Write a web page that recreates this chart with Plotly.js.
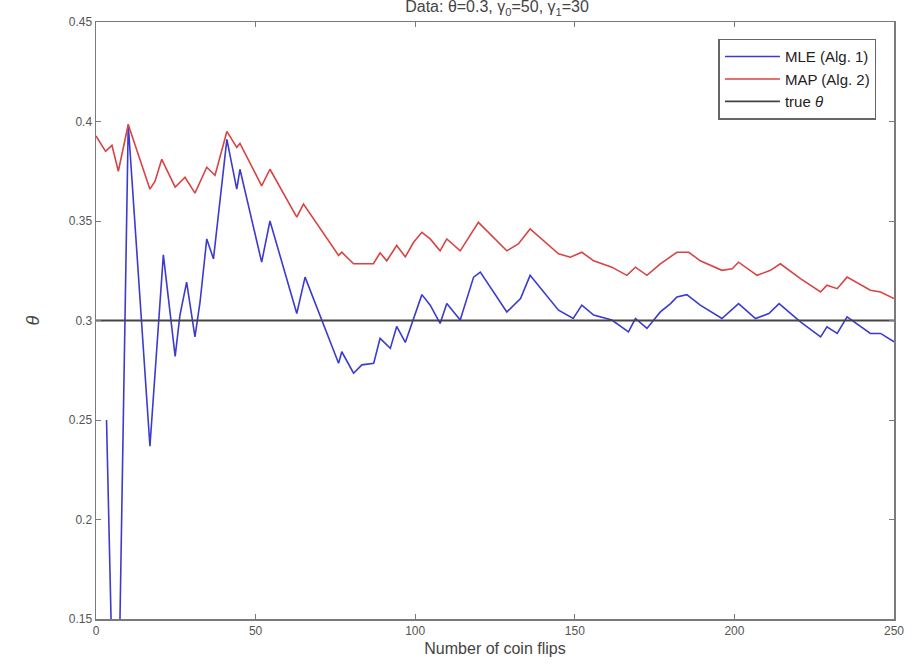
<!DOCTYPE html>
<html>
<head>
<meta charset="utf-8">
<script src="https://cdn.plot.ly/plotly-3.0.1.min.js"></script>
<style>html,body{margin:0;padding:0;background:#fff;}#chart{width:912px;height:668px;}</style>
</head>
<body>
<div id="chart"></div>
<script>
// MLE (Alg. 1) — vertices
const mleX = [3.3, 5, 7.2, 10.1, 16.9, 18.5, 21.1, 24.8, 26.3, 28.4, 31, 32.6, 34.7, 36.8, 41, 44.1, 45.1, 51.9, 54.5, 62.9, 65.5, 76, 77, 80.7, 83.3, 87, 89, 92.2, 94.2, 96.9, 99.5, 102.1, 104.7, 107.8, 109.9, 114.1, 118.3, 120.4, 128.7, 133, 136, 144.9, 149.5, 152.2, 155.9, 161.6, 166.8, 169, 172.6, 176.8, 180, 182, 185.1, 189.3, 196.1, 201.3, 206.6, 210.8, 214, 220.7, 227, 229, 232.2, 235.3, 242.6, 245.8, 250];
const mleY = [0.25, 0.13, 0.12, 0.3985, 0.2368, 0.2743, 0.333, 0.282, 0.3027, 0.3193, 0.2918, 0.3093, 0.341, 0.331, 0.391, 0.366, 0.376, 0.3293, 0.350, 0.3035, 0.3218, 0.2785, 0.2843, 0.2735, 0.2777, 0.2785, 0.291, 0.286, 0.297, 0.289, 0.301, 0.313, 0.3077, 0.2985, 0.3085, 0.3002, 0.3218, 0.3243, 0.3043, 0.311, 0.3227, 0.3052, 0.301, 0.3077, 0.3027, 0.3002, 0.2943, 0.301, 0.296, 0.3043, 0.3085, 0.3118, 0.313, 0.3077, 0.301, 0.3085, 0.301, 0.3035, 0.3085, 0.2993, 0.2918, 0.2968, 0.2935, 0.3018, 0.2935, 0.2935, 0.2893];

// MAP (Alg. 2) — vertices
const mapX = [0, 3, 5, 7, 10.1, 16.9, 18.5, 20.6, 24.8, 27.9, 31, 34.7, 37.3, 41, 44.1, 45.1, 51.9, 54.5, 62.9, 65, 76, 77, 80.7, 86.9, 89, 91.1, 94.2, 96.9, 99.5, 102.1, 104.7, 107.8, 109.9, 114.1, 119.8, 128.7, 132.3, 136, 144.9, 148.6, 152.2, 155.9, 161.6, 166.3, 169, 172.6, 176.8, 182, 185.7, 189.3, 196.1, 199.3, 201.3, 207.1, 211.3, 214.4, 220.7, 227, 229, 232.2, 235.3, 242.6, 245.8, 250];
const mapY = [0.3927, 0.385, 0.388, 0.375, 0.3985, 0.366, 0.370, 0.381, 0.367, 0.372, 0.364, 0.377, 0.373, 0.395, 0.387, 0.389, 0.3677, 0.376, 0.352, 0.3585, 0.3327, 0.3343, 0.3285, 0.3285, 0.334, 0.330, 0.3377, 0.332, 0.3393, 0.3443, 0.341, 0.335, 0.341, 0.335, 0.3493, 0.335, 0.3385, 0.346, 0.3335, 0.3318, 0.3343, 0.330, 0.3268, 0.3227, 0.3268, 0.3227, 0.3285, 0.3343, 0.3343, 0.330, 0.3252, 0.326, 0.3293, 0.3227, 0.3252, 0.3285, 0.321, 0.3143, 0.3177, 0.316, 0.3218, 0.3152, 0.3143, 0.311];

// true theta
const trueX = [0, 250];
const trueY = [0.3, 0.3];

const xTicks = [0, 50, 100, 150, 200, 250];
const yTicks = [0.15, 0.2, 0.25, 0.3, 0.35, 0.4, 0.45];
const yTickText = ['0.15', '0.2', '0.25', '0.3', '0.35', '0.4', '0.45'];

const FONT = 'Liberation Sans, Arial, Helvetica, sans-serif';

const traces = [
  {x: mleX, y: mleY, type: 'scatter', mode: 'lines', name: 'MLE (Alg. 1)',
   line: {color: '#3b3bd0', width: 1.6}},
  {x: mapX, y: mapY, type: 'scatter', mode: 'lines', name: 'MAP (Alg. 2)',
   line: {color: '#d84343', width: 1.6}},
  {x: trueX, y: trueY, type: 'scatter', mode: 'lines', name: 'true <i>θ</i>',
   line: {color: '#444444', width: 1.8}}
];

const axisCommon = {
  showgrid: false, zeroline: false, showline: true, mirror: 'ticks',
  linecolor: '#7a7a7a', linewidth: 1.5, ticks: 'inside', ticklen: 5,
  tickcolor: '#7a7a7a', tickwidth: 1,
  tickfont: {family: FONT, size: 12, color: '#555'}
};

const layout = {
  width: 912, height: 668,
  margin: {l: 96, r: 18, t: 22, b: 49},
  paper_bgcolor: '#fff', plot_bgcolor: '#fff',
  font: {family: FONT, color: '#333'},
  title: {text: 'Data: θ=0.3, γ<sub>0</sub>=50, γ<sub>1</sub>=30', x: 0.545, xanchor: 'center',
          y: 0.99, yanchor: 'middle', font: {family: FONT, size: 16, color: '#444'}},
  xaxis: Object.assign({}, axisCommon, {
    range: [0, 250], tickvals: xTicks, ticktext: xTicks.map(String),
    title: {text: 'Number of coin flips', standoff: 6, font: {family: FONT, size: 16, color: '#444'}}
  }),
  yaxis: Object.assign({}, axisCommon, {
    range: [0.15, 0.45], tickvals: yTicks, ticktext: yTickText,
    title: {text: '<i>θ</i>', standoff: 24, font: {family: FONT, size: 18, color: '#444'}}
  }),
  showlegend: true,
  legend: {x: 0.978, xanchor: 'right', y: 0.972, yanchor: 'top',
           bgcolor: '#fff', bordercolor: '#666', borderwidth: 1.5,
           font: {family: FONT, size: 15, color: '#222'},
           tracegroupgap: 0, itemwidth: 55}
};

Plotly.newPlot('chart', traces, layout, {displayModeBar: false, staticPlot: true});
</script>
</body>
</html>
